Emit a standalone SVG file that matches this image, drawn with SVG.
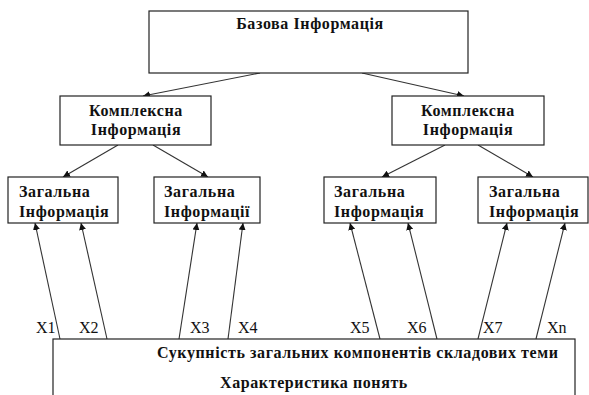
<svg xmlns="http://www.w3.org/2000/svg" width="589" height="395" viewBox="0 0 589 395">
<style>
.box{fill:#fff;stroke:#222;stroke-width:1.2}
.t{font-family:"Liberation Serif","Times New Roman",serif;font-weight:bold;font-size:16px;letter-spacing:0.6px;fill:#111}
.x{font-family:"Liberation Serif","Times New Roman",serif;font-size:16px;fill:#111}
.c{stroke:#333;stroke-width:1.1;fill:none;marker-end:url(#ah)}
</style>
<defs>
<marker id="ah" viewBox="0 0 10 10" refX="10" refY="5" markerWidth="7" markerHeight="7" markerUnits="userSpaceOnUse" orient="auto">
<path d="M0,0 L10,5 L0,10 z" fill="#111"/>
</marker>
</defs>
<rect width="589" height="395" fill="#fff"/>
<g id="connectors">
<line class="c" x1="260" y1="73" x2="143" y2="96"/>
<line class="c" x1="362" y1="73" x2="464" y2="96"/>
<line class="c" x1="118" y1="145" x2="63" y2="177"/>
<line class="c" x1="153" y1="145" x2="208" y2="177"/>
<line class="c" x1="445" y1="145" x2="382" y2="177"/>
<line class="c" x1="478" y1="145" x2="533" y2="177"/>
<line class="c" x1="60" y1="339" x2="35" y2="223"/>
<line class="c" x1="107" y1="339" x2="81" y2="223"/>
<line class="c" x1="179" y1="339" x2="197" y2="223"/>
<line class="c" x1="228" y1="339" x2="243" y2="223"/>
<line class="c" x1="380" y1="339" x2="350" y2="223"/>
<line class="c" x1="437" y1="339" x2="408" y2="223"/>
<line class="c" x1="478" y1="339" x2="507" y2="223"/>
<line class="c" x1="536" y1="339" x2="565" y2="223"/>
</g>
<g id="base">
<rect class="box" x="149" y="11" width="319" height="62"/>
<text class="t" x="310" y="29" text-anchor="middle">Базова Інформація</text>
</g>
<g id="complex1">
<rect class="box" x="60" y="96" width="151" height="49"/>
<text class="t" x="136" y="116" text-anchor="middle">Комплексна</text>
<text class="t" x="136" y="135" text-anchor="middle">Інформація</text>
</g>
<g id="complex2">
<rect class="box" x="392" y="96" width="152" height="49"/>
<text class="t" x="468" y="116" text-anchor="middle">Комплексна</text>
<text class="t" x="468" y="135" text-anchor="middle">Інформація</text>
</g>
<g id="general1">
<rect class="box" x="8" y="177" width="110" height="46"/>
<text class="t" x="19" y="197">Загальна</text>
<text class="t" x="19" y="217">Інформація</text>
</g>
<g id="general2">
<rect class="box" x="154" y="177" width="106" height="46"/>
<text class="t" x="164" y="197">Загальна</text>
<text class="t" x="164" y="217">Інформації</text>
</g>
<g id="general3">
<rect class="box" x="324" y="177" width="112" height="46"/>
<text class="t" x="334" y="197">Загальна</text>
<text class="t" x="334" y="217">Інформація</text>
</g>
<g id="general4">
<rect class="box" x="478" y="177" width="110" height="46"/>
<text class="t" x="489" y="197">Загальна</text>
<text class="t" x="489" y="217">Інформація</text>
</g>
<g id="labels">
<text class="x" x="36" y="333">X1</text>
<text class="x" x="79" y="333">X2</text>
<text class="x" x="190" y="333">X3</text>
<text class="x" x="238" y="333">X4</text>
<text class="x" x="350" y="333">X5</text>
<text class="x" x="407" y="333">X6</text>
<text class="x" x="483" y="333">X7</text>
<text class="x" x="547" y="333">Xn</text>
</g>
<g id="aggregate">
<rect class="box" x="53" y="339" width="522" height="70"/>
<text class="t" x="157" y="358">Сукупність загальних компонентів складових теми</text>
<text class="t" x="220" y="388">Характеристика понять</text>
</g>
</svg>
